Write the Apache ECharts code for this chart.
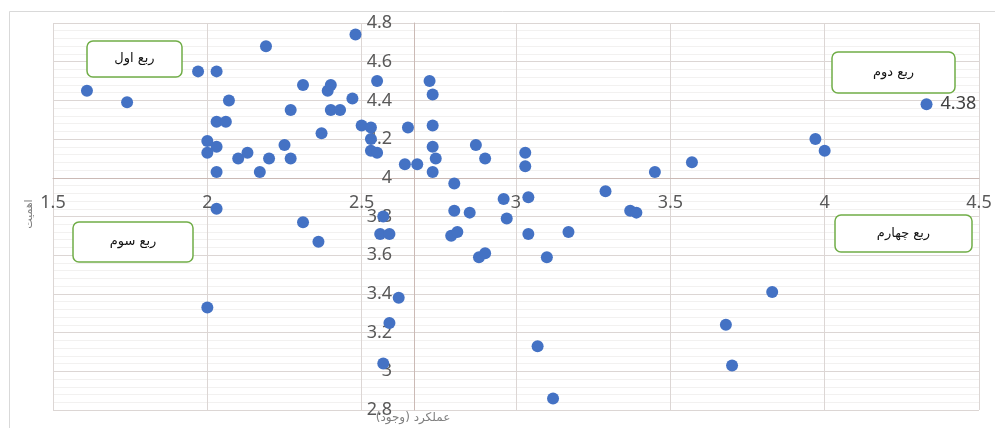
<!DOCTYPE html>
<html>
<head>
<meta charset="utf-8">
<script src="https://cdn.jsdelivr.net/npm/echarts@6/dist/echarts.min.js"></script>
<style>
  html, body { margin: 0; padding: 0; background: #fff; }
  #chart { width: 995px; height: 428px; }
</style>
</head>
<body>
<div id="chart"></div>
<script>
// عملکرد (وجود) - محور افقی
var performance = [
  1.61, 1.74, 1.97, 2.03, 2.07, 2.03, 2.06, 2.00, 2.00, 2.03,
  2.03, 2.10, 2.13, 2.17, 2.20, 2.19, 2.25, 2.27, 2.27, 2.31,
  2.37, 2.39, 2.40, 2.40, 2.43, 2.48, 2.47, 2.50, 2.53, 2.55,
  2.53, 2.53, 2.55, 2.65, 2.64, 2.68, 2.72, 2.73, 2.73, 2.73,
  2.74, 2.73, 2.87, 2.90, 2.80, 2.80, 2.85, 2.96, 2.97, 3.04,
  3.03, 3.03, 2.57, 2.56, 2.59, 2.79, 2.81, 3.04, 3.17, 2.88,
  2.90, 3.10, 2.31, 2.36, 2.00, 2.62, 2.59, 2.57, 3.07, 3.12,
  3.29, 3.37, 3.39, 3.45, 3.57, 3.97, 4.00, 4.33, 3.83, 3.68,
  3.70, 2.03
];
// اهمیت - محور عمودی
var importance = [
  4.45, 4.39, 4.55, 4.55, 4.40, 4.29, 4.29, 4.19, 4.13, 4.16,
  4.03, 4.10, 4.13, 4.03, 4.10, 4.68, 4.17, 4.10, 4.35, 4.48,
  4.23, 4.45, 4.48, 4.35, 4.35, 4.74, 4.41, 4.27, 4.26, 4.50,
  4.20, 4.14, 4.13, 4.26, 4.07, 4.07, 4.50, 4.43, 4.27, 4.16,
  4.10, 4.03, 4.17, 4.10, 3.97, 3.83, 3.82, 3.89, 3.79, 3.90,
  4.13, 4.06, 3.80, 3.71, 3.71, 3.70, 3.72, 3.71, 3.72, 3.59,
  3.61, 3.59, 3.77, 3.67, 3.33, 3.38, 3.25, 3.04, 3.13, 2.86,
  3.93, 3.83, 3.82, 4.03, 4.08, 4.20, 4.14, 4.38, 3.41, 3.24,
  3.03, 3.84
];
var labeledPoint = 77;      // نقطه با برچسب 4.38
var crossX = 2.67;          // محل محور عمودی
var crossY = 4;             // محل محور افقی
var xMin = 1.5, xMax = 4.5, xStep = 0.5;
var yMin = 2.8, yMax = 4.8, yStep = 0.2;
var quadrants = ['ربع اول', 'ربع دوم', 'ربع سوم', 'ربع چهارم'];
var xTitle = 'عملکرد (وجود)';
var yTitle = 'اهمیت';

var gridLeft = 53, gridRight = 16, gridTop = 23, gridBottom = 18;
var plotW = 995 - gridLeft - gridRight;
var plotH = 428 - gridTop - gridBottom;

var points = performance.map(function (x, i) {
  var item = { value: [x, importance[i]] };
  if (i === labeledPoint) {
    item.label = {
      show: true, position: 'right', distance: 8,
      formatter: function (p) { return p.value[1].toFixed(2); },
      color: '#404040', fontSize: 18, fontFamily: 'Noto Sans'
    };
  }
  return item;
});

// جعبه های ربع ها
var boxes = [
  { x: 87, y: 41, w: 95, h: 36 },
  { x: 832, y: 52, w: 123, h: 41 },
  { x: 73, y: 222, w: 120, h: 40 },
  { x: 835, y: 215, w: 137, h: 37 }
];
var graphics = [{
  type: 'rect', silent: true,
  shape: { x: 9.5, y: 11.5, width: 1000, height: 440 },
  style: { fill: 'none', stroke: '#d9d9d9', lineWidth: 1 }
}];
boxes.forEach(function (b, i) {
  graphics.push({
    type: 'rect', z: 10,
    shape: { x: b.x, y: b.y, width: b.w, height: b.h, r: 6 },
    style: { fill: '#fff', stroke: '#70ad47', lineWidth: 1.5 }
  });
  graphics.push({
    type: 'text', z: 11,
    x: b.x + b.w / 2, y: b.y + b.h / 2,
    style: {
      text: quadrants[i], fill: '#111', fontSize: 13,
      fontFamily: 'DejaVu Sans', align: 'center', verticalAlign: 'middle'
    }
  });
});
graphics.push({
  type: 'text', x: 413, y: 418,
  style: { text: xTitle, fill: '#7f7f7f', fontSize: 12, fontFamily: 'DejaVu Sans',
           align: 'center', verticalAlign: 'middle' }
});
graphics.push({
  type: 'text', x: 29, y: 214, rotation: Math.PI / 2,
  style: { text: yTitle, fill: '#7f7f7f', fontSize: 11, fontFamily: 'DejaVu Sans',
           align: 'center', verticalAlign: 'middle' }
});

var chart = echarts.init(document.getElementById('chart'));
chart.setOption({
  backgroundColor: '#fff',
  animation: false,
  grid: { left: gridLeft, right: gridRight, top: gridTop, bottom: gridBottom },
  xAxis: {
    type: 'value', min: xMin, max: xMax, interval: xStep,
    offset: -((crossY - yMin) / (yMax - yMin)) * plotH,
    axisLine: { show: true, onZero: false, lineStyle: { color: '#cbbab5', width: 1 } },
    axisTick: { show: false },
    axisLabel: { color: '#595959', fontSize: 18, fontFamily: 'Noto Sans', margin: 16 },
    splitLine: { show: true, lineStyle: { color: '#dcd6d4', width: 1 } }
  },
  yAxis: {
    type: 'value', min: yMin, max: yMax, interval: yStep,
    offset: -((crossX - xMin) / (xMax - xMin)) * plotW,
    axisLine: { show: true, onZero: false, lineStyle: { color: '#cbbab5', width: 1 } },
    axisTick: { show: false },
    axisLabel: { color: '#595959', fontSize: 18, fontFamily: 'Noto Sans', margin: 22 },
    splitLine: { show: true, lineStyle: { color: '#dcd6d4', width: 1 } },
    minorTick: { show: false, splitNumber: 5 },
    minorSplitLine: { show: true, lineStyle: { color: '#f2f1f0', width: 1 } }
  },
  series: [{
    type: 'scatter',
    symbol: 'circle',
    symbolSize: 12,
    itemStyle: { color: '#4472c4', opacity: 1 },
    data: points,
    z: 5
  }],
  graphic: graphics
});
</script>
</body>
</html>
